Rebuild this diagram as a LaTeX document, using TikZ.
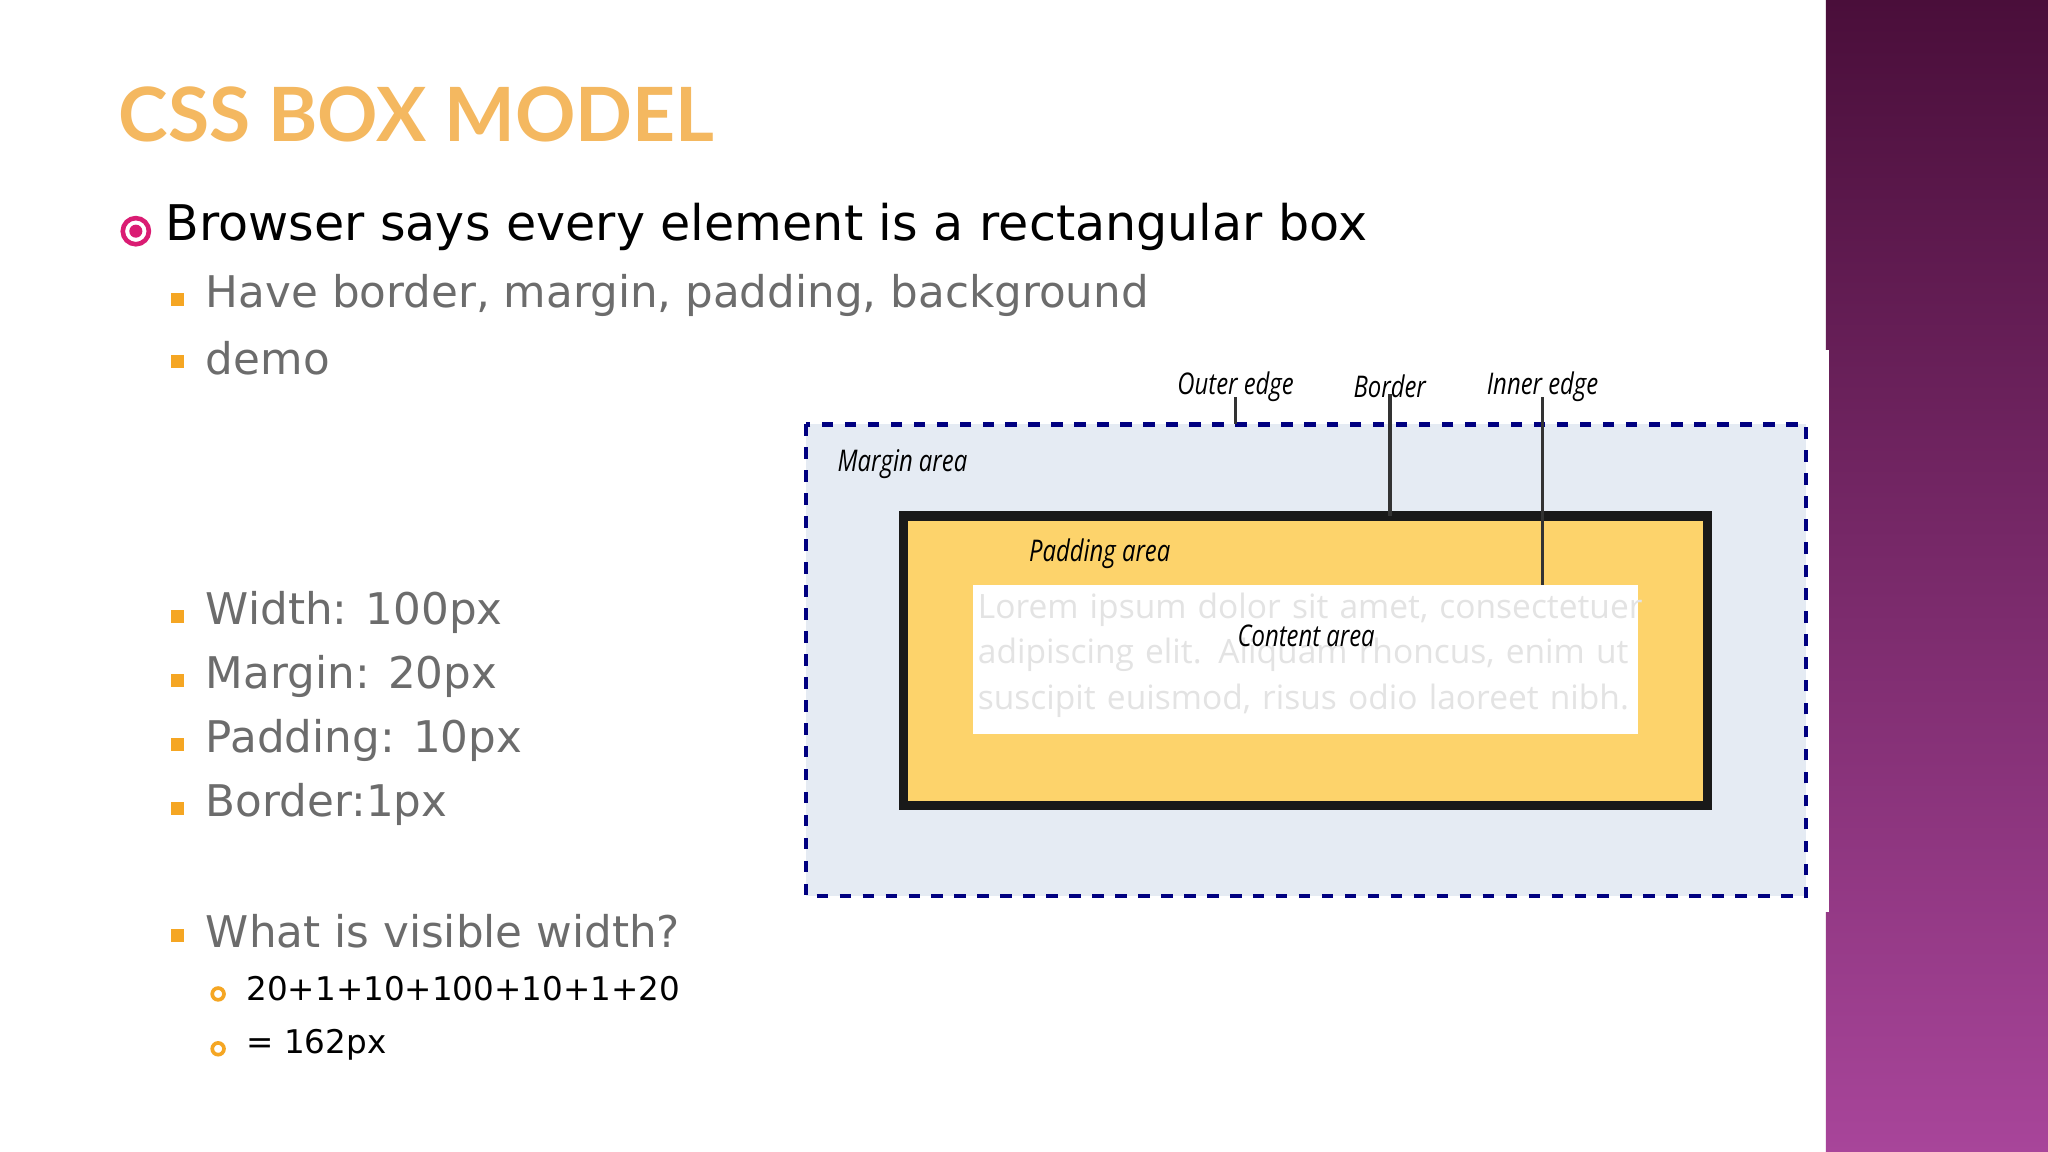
\documentclass[tikz,border=0pt]{standalone}
\usepackage{fontspec}
\setmainfont{DejaVu Sans}
\newfontfamily\titlefont{Lato}
\newfontfamily\lblfont{Open Sans}
\definecolor{purtop}{HTML}{4A0E3A}
\definecolor{purbot}{HTML}{A8459A}
\definecolor{padc}{HTML}{FDD36B}
\definecolor{marc}{HTML}{E5EBF3}
\definecolor{titc}{HTML}{F4B860}
\definecolor{bulc}{HTML}{F5A623}
\begin{document}
\begin{tikzpicture}[x=0.01cm,y=-0.01cm,
  lvlone/.style={anchor=west,font=\fontsize{10.7}{13}\selectfont,text=black,inner sep=0},
  lvltwo/.style={anchor=west,font=\fontsize{9.5}{12}\selectfont,text=gray!85!black,inner sep=0},
  lvlthree/.style={anchor=west,font=\fontsize{7.1}{9}\selectfont,text=black,inner sep=0},
  sqb/.style={fill=bulc,minimum size=0.1cm,inner sep=0},
  cb/.style={draw=bulc,line width=0.8pt,circle,minimum size=0.09cm,inner sep=0},
  lbl/.style={font=\lblfont\itshape\fontsize{6.5}{8}\selectfont,xscale=0.8,inner sep=0}]
\useasboundingbox (0,0) rectangle (1568,882);
\fill[white] (0,0) rectangle (1568,882);
\shade[top color=purtop, bottom color=purbot] (1398,0) rectangle (1568,882);
\fill[white] (1390,268) rectangle (1400,698);
\node[anchor=west,inner sep=0,font=\titlefont\bfseries\fontsize{16.3}{20}\selectfont,text=titc] (title) at (90,88) {CSS BOX MODEL};
\node[circle,draw=magenta!60!purple,line width=1pt,minimum size=0.2cm,inner sep=0] (b0) at (104,177) {};
\fill[magenta!60!purple] (b0) circle (5);
\node[lvlone] (t0) at (126,174) {Browser says every element is a rectangular box};
\foreach \y/\t [count=\i] in {226/{Have border, margin, padding, background},274/demo,469/{Width: 100px},518/{Margin: 20px},567/{Padding: 10px},616/{Border:1px},713/{What is visible width?}}{
  \node[sqb] (s\i) at (136,\y+3) {};
  \node[lvltwo] (u\i) at (157,\y) {\t};
}
\node[cb] (c1) at (167,761) {};
\node[lvlthree] (v1) at (188,757) {20+1+10+100+10+1+20};
\node[cb] (c2) at (167,803) {};
\node[lvlthree] (v2) at (188,800) {= 162px};
% diagram
\draw[fill=marc,draw=blue!50!black,line width=0.9pt,dash pattern=on 2.5pt off 2.5pt] (617,325) rectangle (1383,686);
\draw[fill=padc,draw=black!90,line width=2pt] (692,395) rectangle (1307,617);
\fill[white] (745,448) rectangle (1254,562);
\node[anchor=north west,text width=5.1cm,font=\lblfont\fontsize{7.3}{10}\selectfont,text=gray!22,inner sep=0,align=left] (lorem) at (748,453) {\hyphenpenalty=10000 Lorem ipsum dolor sit amet, consectetuer adipiscing elit. Aliquam rhoncus, enim ut suscipit euismod, risus odio laoreet nibh.};
\node[lbl] (ma) at (691,355) {Margin area};
\node[lbl] (pa) at (842,424) {Padding area};
\node[lbl] (ca) at (1000,487) {Content area};
\node[lbl] (oe) at (946,296) {Outer edge};
\node[lbl] (be) at (1064,296) {Border};
\node[lbl] (ie) at (1181,296) {Inner edge};
\coordinate (oe2) at (946,325);
\coordinate (be2) at (1064,395);
\coordinate (ie2) at (1181,448);
\draw[gray!40!black,line width=0.8pt] (oe.south) ++(0,-4) -- (oe2);
\draw[gray!40!black,line width=0.8pt] (be.south) ++(0,-4) -- (be2);
\draw[gray!40!black,line width=0.8pt] (ie.south) ++(0,-4) -- (ie2);
\end{tikzpicture}
\end{document}
